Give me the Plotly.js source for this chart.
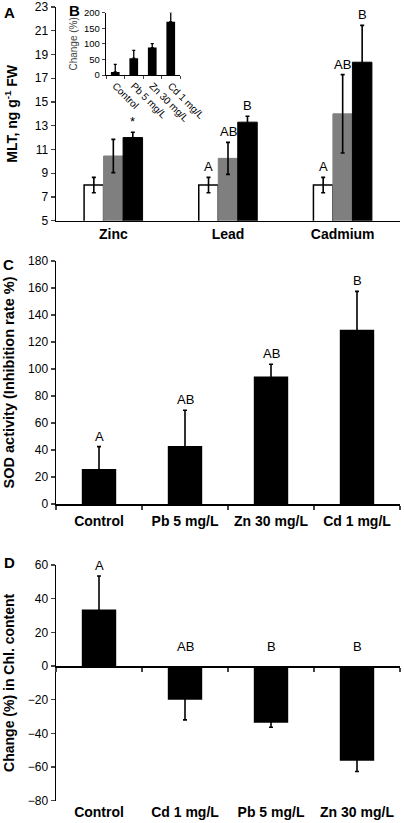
<!DOCTYPE html>
<html>
<head>
<meta charset="utf-8">
<script src="https://cdn.plot.ly/plotly-3.0.1.min.js"></script>
<style>html,body{margin:0;padding:0;background:#fff;}#chart{width:404px;height:823px;}</style>
</head>
<body>
<div id="chart"></div>
<script>
// Panel A: MLT content
const mltGroups = ['Zinc', 'Lead', 'Cadmium'];
const mltControl = [8.0, 8.0, 8.0];
const mltControlErr = [0.65, 0.65, 0.65];
const mltMid = [10.45, 10.25, 14.0];
const mltMidErr = [1.4, 1.35, 3.3];
const mltHigh = [12.0, 13.3, 18.35];
const mltHighErr = [0.45, 0.5, 3.1];
const mltControlLbl = ['', 'A', 'A'];
const mltMidLbl = ['', 'AB', 'AB'];
const mltHighLbl = ['*', 'B', 'B'];

// Panel B inset: change (%)
const insetCats = ['Control', 'Pb 5 mg/L', 'Zn 30 mg/L', 'Cd 1 mg/L'];
const insetVals = [10, 54, 88, 171];
const insetErr = [24, 25, 13, 30];

// Panel C: SOD activity
const sodCats = ['Control', 'Pb 5 mg/L', 'Zn 30 mg/L', 'Cd 1 mg/L'];
const sodVals = [26, 43, 94.5, 129];
const sodErr = [16.5, 26.5, 9, 28.5];
const sodLbl = ['A', 'AB', 'AB', 'B'];

// Panel D: change in chlorophyll content
const chlCats = ['Control', 'Cd 1 mg/L', 'Pb 5 mg/L', 'Zn 30 mg/L'];
const chlVals = [33.5, -20, -33.7, -56.2];
const chlErr = [20, 12, 2.7, 6.5];
const chlLbl = ['A', 'AB', 'B', 'B'];

const FONT = 'Liberation Sans, Arial, sans-serif';
const H = 823, W = 404;
const py = p => 1 - p / H;
const px = p => p / W;

const BW = 0.17;
const errStyle = (arr) => ({type: 'data', array: arr, visible: true, color: '#000', thickness: 1.6, width: 2});

const traces = [
  {type: 'bar', x: mltGroups, y: mltControl, xaxis: 'x', yaxis: 'y', width: BW, offset: -1.5 * BW,
   marker: {color: '#ffffff', line: {color: '#000', width: 1.5}}, error_y: errStyle(mltControlErr), hoverinfo: 'skip'},
  {type: 'bar', x: mltGroups, y: mltMid, xaxis: 'x', yaxis: 'y', width: BW, offset: -0.5 * BW,
   marker: {color: '#7f7f7f', line: {color: '#7f7f7f', width: 1}}, error_y: errStyle(mltMidErr), hoverinfo: 'skip'},
  {type: 'bar', x: mltGroups, y: mltHigh, xaxis: 'x', yaxis: 'y', width: BW, offset: 0.5 * BW,
   marker: {color: '#000000', line: {color: '#000', width: 1}}, error_y: errStyle(mltHighErr), hoverinfo: 'skip'},
  {type: 'bar', x: insetCats, y: insetVals, xaxis: 'x2', yaxis: 'y2', width: 0.47,
   marker: {color: '#000'}, error_y: {type: 'data', symmetric: false, array: insetErr, arrayminus: insetErr.map(() => 0),
   color: '#000', thickness: 1.3, width: 1.5}, hoverinfo: 'skip'},
  {type: 'bar', x: sodCats, y: sodVals, xaxis: 'x3', yaxis: 'y3', width: 0.4,
   marker: {color: '#000'}, error_y: errStyle(sodErr), hoverinfo: 'skip'},
  {type: 'bar', x: chlCats, y: chlVals, xaxis: 'x4', yaxis: 'y4', width: 0.4,
   marker: {color: '#000'}, error_y: errStyle(chlErr), hoverinfo: 'skip'}
];

const annotations = [];
const lblFont = {family: FONT, size: 13, color: '#000'};
function addLabels(xref, yref, cats, vals, errs, lbls, off) {
  lbls.forEach((t, i) => {
    if (!t) return;
    const neg = vals[i] < 0;
    annotations.push({xref: xref, yref: yref, x: (off === undefined ? cats[i] : i + off), y: neg ? 0 : vals[i] + errs[i],
      text: t, showarrow: false, yanchor: 'bottom', yshift: neg ? 10 : 1, font: lblFont});
  });
}
addLabels('x', 'y', mltGroups, mltControl, mltControlErr, mltControlLbl, -BW);
addLabels('x', 'y', mltGroups, mltMid, mltMidErr, mltMidLbl, 0);
addLabels('x', 'y', mltGroups, mltHigh, mltHighErr, mltHighLbl, BW);
addLabels('x3', 'y3', sodCats, sodVals, sodErr, sodLbl);
addLabels('x4', 'y4', chlCats, chlVals, chlErr, chlLbl);

const panelFont = {family: FONT, size: 15, color: '#000', weight: 'bold'};
[['A', 2, 2], ['B', 67, 0], ['C', 1, 254], ['D', 2, 552]].forEach(([t, x, y]) => {
  annotations.push({xref: 'paper', yref: 'paper', x: px(x), y: py(y), xanchor: 'left', yanchor: 'top',
    text: t, showarrow: false, font: panelFont});
});

const tickF = {family: FONT, size: 12, color: '#000'};
const boldX = {family: FONT, size: 14, color: '#000', weight: 'bold'};
const titleF = {family: FONT, size: 14, color: '#000', weight: 'bold'};
const axLine = {showline: true, linecolor: '#000', linewidth: 1.5, showgrid: false, zeroline: false};

const layout = {
  width: W, height: H,
  margin: {l: 0, r: 0, t: 0, b: 0},
  paper_bgcolor: '#fff', plot_bgcolor: 'rgba(0,0,0,0)',
  showlegend: false,
  barmode: 'group',
  font: {family: FONT, color: '#000'},
  xaxis: Object.assign({}, axLine, {domain: [px(56), px(400)], anchor: 'y', type: 'category', range: [-0.5, 2.5],
    ticks: '', tickfont: boldX}),
  yaxis: Object.assign({}, axLine, {domain: [py(220.7), py(7)], anchor: 'x', range: [5, 23], tickmode: 'linear', tick0: 5, dtick: 2,
    ticks: 'outside', ticklen: 4, tickwidth: 1.3, tickfont: tickF,
    title: {text: 'MLT, ng g<sup>-1</sup> FW', font: titleF, standoff: 14}}),
  xaxis2: Object.assign({}, axLine, {domain: [px(106), px(180)], anchor: 'y2', type: 'category', range: [-0.5, 3.5],
    ticks: 'outside', tickson: 'boundaries', ticklen: 3, tickwidth: 1, linewidth: 1.2, tickangle: 45,
    tickfont: {family: FONT, size: 10, color: '#000'}}),
  yaxis2: Object.assign({}, axLine, {domain: [py(75), py(12.7)], anchor: 'x2', range: [0, 200], dtick: 50, linewidth: 1.2,
    ticks: 'outside', ticklen: 3, tickwidth: 1, tickfont: {family: FONT, size: 9.5, color: '#000'},
    title: {text: 'Change (%)', font: {family: FONT, size: 10, color: '#444'}, standoff: 4}}),
  xaxis3: Object.assign({}, axLine, {domain: [px(56), px(400)], anchor: 'y3', type: 'category', range: [-0.5, 3.5],
    ticks: 'outside', tickson: 'boundaries', ticklen: 4, tickwidth: 1.3, tickfont: boldX, ticklabelstandoff: 4}),
  yaxis3: Object.assign({}, axLine, {domain: [py(504), py(261)], anchor: 'x3', range: [0, 180], dtick: 20,
    ticks: 'outside', ticklen: 4, tickwidth: 1.3, tickfont: tickF,
    title: {text: 'SOD activity (Inhibition rate %)', font: Object.assign({}, titleF, {size: 14.5}), standoff: 10}}),
  xaxis4: Object.assign({}, axLine, {domain: [px(56), px(400)], anchor: 'free', position: py(666), type: 'category', range: [-0.5, 3.5],
    ticks: 'outside', tickson: 'boundaries', ticklen: 4, tickwidth: 1.3, tickfont: boldX, ticklabelstandoff: 133}),
  yaxis4: Object.assign({}, axLine, {domain: [py(800.7), py(565)], anchor: 'x4', range: [-80, 60], dtick: 20,
    ticks: 'outside', ticklen: 4, tickwidth: 1.3, tickfont: tickF,
    title: {text: 'Change (%) in Chl. content', font: titleF, standoff: 10}}),
  annotations: annotations
};

Plotly.newPlot('chart', traces, layout, {staticPlot: true, displayModeBar: false});
</script>
</body>
</html>
